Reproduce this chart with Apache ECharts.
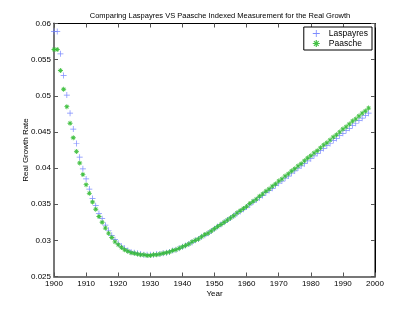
<!DOCTYPE html>
<html><head><meta charset="utf-8">
<script src="https://cdn.jsdelivr.net/npm/echarts@6/dist/echarts.min.js"></script>
<style>html,body{margin:0;padding:0;background:#fff}#c{width:415px;height:312px}</style>
</head><body><div id="c"></div>
<script>
const years = [];
for (let y = 1900; y <= 1998; y++) years.push(y);
const laspayres = [
0.0589,0.0589,0.0558,0.0528,0.0501,0.0476,0.0454,0.0434,0.0415,0.0399,
0.0385,0.0371,0.0358,0.0348,0.0337,0.0330,0.0321,0.0314,0.0307,0.0301,
0.0296,0.0292,0.0289,0.0286,0.0284,0.0283,0.0282,0.0281,0.0280,0.0280,
0.0280,0.0280,0.0281,0.0281,0.0282,0.0283,0.0284,0.0286,0.0287,0.0289,
0.0291,0.0293,0.0295,0.0297,0.0300,0.0302,0.0305,0.0307,0.0310,0.0313,
0.0316,0.0319,0.0322,0.0325,0.0328,0.0331,0.0334,0.0337,0.0340,0.0343,
0.0346,0.0349,0.0353,0.0356,0.0359,0.0362,0.0366,0.0369,0.0372,0.0376,
0.0379,0.0382,0.0386,0.0389,0.0393,0.0396,0.0400,0.0403,0.0406,0.0410,
0.0413,0.0417,0.0420,0.0424,0.0427,0.0431,0.0434,0.0438,0.0441,0.0445,
0.0448,0.0452,0.0455,0.0459,0.0462,0.0466,0.0469,0.0473,0.0476
];
const paasche = [
0.0564,0.0564,0.0535,0.0509,0.0485,0.0462,0.0442,0.0423,0.0407,0.0391,
0.0377,0.0365,0.0353,0.0343,0.0333,0.0325,0.0317,0.0310,0.0304,0.0298,
0.0294,0.0290,0.0287,0.0285,0.0283,0.0282,0.0281,0.0280,0.0280,0.0279,
0.0279,0.0280,0.0280,0.0281,0.0282,0.0283,0.0284,0.0286,0.0287,0.0289,
0.0291,0.0293,0.0295,0.0298,0.0300,0.0302,0.0305,0.0308,0.0310,0.0313,
0.0316,0.0319,0.0322,0.0325,0.0328,0.0331,0.0334,0.0338,0.0341,0.0344,
0.0347,0.0351,0.0354,0.0357,0.0361,0.0364,0.0368,0.0371,0.0375,0.0378,
0.0382,0.0385,0.0389,0.0392,0.0396,0.0399,0.0403,0.0406,0.0410,0.0414,
0.0417,0.0421,0.0424,0.0428,0.0432,0.0435,0.0439,0.0443,0.0446,0.0450,
0.0454,0.0457,0.0461,0.0465,0.0468,0.0472,0.0476,0.0479,0.0483
];
const xTicks = { min: 1900, max: 2000, step: 10 };
const yTicks = { min: 0.025, max: 0.06, step: 0.005 };

const plus = 'path://M-1,-0.12H1V0.12H-1Z M-0.12,-1H0.12V1H-0.12Z';
const star = 'path://M-0.17,-1H0.17V1H-0.17Z M-1,-0.17H1V0.17H-1Z M-0.8,-0.56L-0.56,-0.8L0.8,0.56L0.56,0.8Z M0.56,-0.8L0.8,-0.56L-0.56,0.8L-0.8,0.56Z';
const font = 'Liberation Sans, Arial, sans-serif';

const chart = echarts.init(document.getElementById('c'), null, { renderer: 'canvas' });
const axisLabel = { color: '#000', fontSize: 8, fontFamily: font, margin: 3 };
chart.setOption({
  animation: false,
  backgroundColor: '#fff',
  title: {
    text: 'Comparing Laspayres VS Paasche Indexed Measurement for the Real Growth',
    left: 215, top: 7, textAlign: 'center',
    textStyle: { fontSize: 7.5, fontWeight: 'normal', color: '#000', fontFamily: font }
  },
  grid: { left: 54, right: 40, top: 23.5, bottom: 35.5, show: true, borderColor: '#000', borderWidth: 1 },
  legend: {
    right: 43, top: 27, orient: 'vertical', itemGap: 1,
    itemWidth: 7, itemHeight: 7,
    backgroundColor: '#fff', borderColor: '#000', borderWidth: 1, borderRadius: 0,
    padding: [2, 4, 2, 9],
    textStyle: { fontSize: 8.5, color: '#000', fontFamily: font, padding: [0, 0, 0, 4] },
    data: [
      { name: 'Laspayres', icon: plus, itemStyle: { color: '#6f7fff' } },
      { name: 'Paasche', icon: star, itemStyle: { color: '#33bb33' } }
    ]
  },
  xAxis: [{
    type: 'value', min: xTicks.min, max: xTicks.max, interval: xTicks.step,
    name: 'Year', nameLocation: 'middle', nameGap: 13, nameMoveOverlap: false,
    nameTextStyle: { fontSize: 8, color: '#000', fontFamily: font },
    axisLine: { show: true, onZero: false, lineStyle: { color: '#777', width: 2 } },
    axisTick: { inside: true, length: 4, lineStyle: { color: '#555' } },
    axisLabel: Object.assign({}, axisLabel, { formatter: v => String(v) }),
    splitLine: { show: false }
  }, {
    type: 'value', position: 'top', min: xTicks.min, max: xTicks.max, interval: xTicks.step,
    axisLine: { show: true, lineStyle: { color: '#000', width: 1 } },
    axisTick: { inside: true, length: 4, lineStyle: { color: '#555' } },
    axisLabel: { show: false }, splitLine: { show: false }
  }],
  yAxis: [{
    type: 'value', min: yTicks.min, max: yTicks.max, interval: yTicks.step,
    name: 'Real Growth Rate', nameLocation: 'middle', nameGap: 24, nameRotate: 90, nameMoveOverlap: false,
    nameTextStyle: { fontSize: 8, color: '#000', fontFamily: font },
    axisLine: { show: true, onZero: false, lineStyle: { color: '#777', width: 2 } },
    axisTick: { inside: true, length: 4, lineStyle: { color: '#555' } },
    axisLabel: Object.assign({}, axisLabel, { formatter: v => String(+v.toFixed(3)) }),
    splitLine: { show: false }
  }, {
    type: 'value', position: 'right', min: yTicks.min, max: yTicks.max, interval: yTicks.step,
    axisLine: { show: true, lineStyle: { color: '#000', width: 1 } },
    axisTick: { inside: true, length: 4, lineStyle: { color: '#555' } },
    axisLabel: { show: false }, splitLine: { show: false }
  }],
  series: [{
    name: 'Laspayres', type: 'scatter', symbol: plus, symbolSize: 6,
    itemStyle: { color: '#6f7fff', opacity: 0.9 },
    data: years.map((y, i) => [y, laspayres[i]])
  }, {
    name: 'Paasche', type: 'scatter', symbol: star, symbolSize: 5,
    itemStyle: { color: '#33bb33', opacity: 0.9 },
    data: years.map((y, i) => [y, paasche[i]])
  }]
});
</script></body></html>
